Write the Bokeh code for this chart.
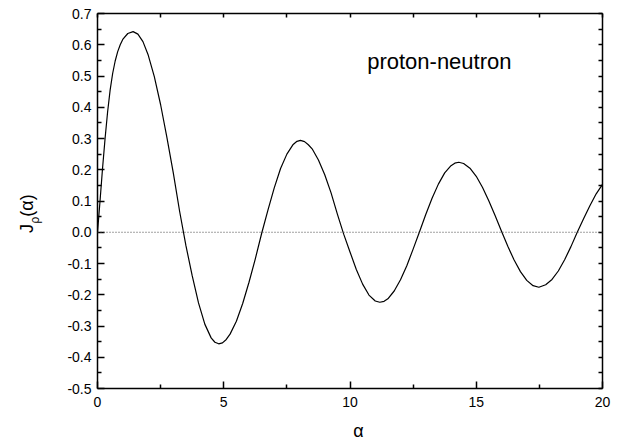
from bokeh.plotting import figure
from bokeh.layouts import row, column
from bokeh.models import Range1d, FixedTicker, LinearAxis, Span, Label, CustomJSTickFormatter
from bokeh.embed import file_html
from bokeh.resources import INLINE
import math

# Curve J_rho(alpha)
alpha = [0.0, 0.1, 0.2, 0.3, 0.4, 0.5, 0.6, 0.7, 0.8, 0.9, 1.0, 1.2, 1.41,
         1.6, 1.8, 2.0, 2.25, 2.5, 2.75, 3.0, 3.25, 3.5, 3.75, 4.0, 4.25, 4.5, 4.65, 4.8,
         4.95, 5.1, 5.25, 5.5, 5.75, 6.0, 6.25, 6.5, 6.75, 7.0, 7.25, 7.5, 7.75, 7.9, 8.04,
         8.2, 8.35, 8.5, 8.75, 9.0, 9.25, 9.5, 9.75, 10.0, 10.25, 10.5, 10.75, 11.0, 11.18,
         11.35, 11.5, 11.75, 12.0, 12.25, 12.5, 12.75, 13.0, 13.25, 13.5, 13.75, 14.0, 14.15, 14.31,
         14.5, 14.75, 15.0, 15.25, 15.5, 15.75, 16.0, 16.25, 16.5, 16.75, 17.0, 17.25, 17.48,
         17.75, 18.0, 18.25, 18.5, 18.75, 19.0, 19.25, 19.5, 19.75, 20.0]
j_rho = [0.0, 0.10, 0.205, 0.30, 0.385, 0.455, 0.508, 0.548, 0.578, 0.600, 0.617, 0.636, 0.642,
         0.634, 0.610, 0.569, 0.498, 0.408, 0.303, 0.191, 0.068, -0.042, -0.139, -0.226, -0.294, -0.338, -0.352, -0.357,
         -0.354, -0.343, -0.326, -0.285, -0.228, -0.160, -0.085, -0.004, 0.071, 0.142, 0.204, 0.250, 0.281, 0.291, 0.294,
         0.290, 0.280, 0.267, 0.231, 0.184, 0.126, 0.058, -0.006, -0.063, -0.119, -0.166, -0.201, -0.220, -0.224,
         -0.221, -0.213, -0.188, -0.152, -0.107, -0.054, 0.001, 0.057, 0.109, 0.154, 0.190, 0.213, 0.221, 0.224,
         0.220, 0.205, 0.179, 0.143, 0.100, 0.053, 0.003, -0.045, -0.089, -0.126, -0.154, -0.171, -0.176,
         -0.168, -0.151, -0.124, -0.088, -0.046, 0.000, 0.043, 0.085, 0.123, 0.153]

x_ticks = [0, 5, 10, 15, 20]
x_minor = [2.5, 7.5, 12.5, 17.5]
y_ticks = [-0.5, -0.4, -0.3, -0.2, -0.1, 0.0, 0.1, 0.2, 0.3, 0.4, 0.5, 0.6, 0.7]
y_minor = [-0.45, -0.35, -0.25, -0.15, -0.05, 0.05, 0.15, 0.25, 0.35, 0.45, 0.55, 0.65]
annotation = "proton-neutron"
ylabel_parts = ["J", "\u03c1", "(\u03b1)"]
xlabel = "\u03b1"

FONT = "Liberation Sans"
LW = 60          # width of the strip holding the y-axis title
MW = 560         # width of the main plot
MH = 418         # height of the main plot
BH = 22          # height of the strip holding the x-axis title
H = MH + BH


def strip(w, h):
    f = figure(width=w, height=h, output_backend="svg", toolbar_location=None,
               x_range=Range1d(0, w), y_range=Range1d(h, 0),
               min_border=0, x_axis_location=None, y_axis_location=None)
    f.grid.visible = False
    f.outline_line_color = None
    return f

# ---- strip with the rotated y-axis title (page pixel coordinates) ----
lab = strip(LW, H)
rot = math.pi / 2
lab.add_layout(Label(x=26, y=228, text=ylabel_parts[0], angle=rot, text_font=FONT,
                     text_font_size="18px", text_align="center", text_baseline="middle",
                     text_color="black"))
lab.add_layout(Label(x=34, y=219.5, text=ylabel_parts[1], angle=rot, text_font=FONT,
                     text_font_size="12px", text_align="center", text_baseline="middle",
                     text_color="black"))
lab.add_layout(Label(x=26, y=205, text=ylabel_parts[2], angle=rot, text_font=FONT,
                     text_font_size="18px", text_align="center", text_baseline="middle",
                     text_color="black"))

# ---- strip with the x-axis title ----
xl = strip(MW, BH)
xl.add_layout(Label(x=(97 - LW) + 252.5, y=BH, text=xlabel, text_font=FONT,
                    text_font_size="18px", text_align="center", text_baseline="bottom",
                    text_color="black"))

# ---- main plot ----
p = figure(width=MW, height=MH, output_backend="svg", toolbar_location=None,
           x_range=Range1d(0, 20), y_range=Range1d(-0.5, 0.7),
           min_border_left=97 - LW, min_border_right=18, min_border_top=13,
           min_border_bottom=MH - 388,
           x_axis_location=None, y_axis_location=None)
p.grid.visible = False
p.outline_line_color = None

yfmt = CustomJSTickFormatter(code="return tick.toFixed(1);")

def style(ax, major_in, minor_in, labels=True):
    ax.axis_line_color = "black"
    ax.axis_line_width = 1.5
    ax.major_tick_line_color = "black"
    ax.minor_tick_line_color = "black"
    ax.major_tick_line_width = 1.5
    ax.minor_tick_line_width = 1.5
    ax.major_tick_in = major_in
    ax.major_tick_out = 0
    ax.minor_tick_in = minor_in
    ax.minor_tick_out = 0
    ax.major_label_text_font = FONT
    ax.major_label_text_font_size = "14px"
    ax.major_label_text_color = "black"
    ax.major_label_standoff = 6
    if not labels:
        ax.major_label_text_alpha = 0
        ax.major_label_text_font_size = "0px"

bottom = LinearAxis(ticker=FixedTicker(ticks=x_ticks, minor_ticks=x_minor))
style(bottom, 7, 4)
bottom.major_label_standoff = 8
p.add_layout(bottom, "below")

left = LinearAxis(ticker=FixedTicker(ticks=y_ticks, minor_ticks=y_minor), formatter=yfmt)
style(left, 7, 4)
p.add_layout(left, "left")

top = LinearAxis(ticker=FixedTicker(ticks=x_ticks, minor_ticks=x_minor))
style(top, 4, 4, labels=False)
p.add_layout(top, "above")

right = LinearAxis(ticker=FixedTicker(ticks=y_ticks, minor_ticks=y_minor), formatter=yfmt)
style(right, 4, 4, labels=False)
p.add_layout(right, "right")

p.add_layout(Span(location=0, dimension="width", line_color="#444444",
                  line_width=1, line_dash="1 2"))

p.line(alpha, j_rho, line_color="black", line_width=1.2, line_join="round")

p.add_layout(Label(x=10.68, y=0.548, text=annotation, text_font=FONT,
                   text_font_size="22px", text_color="black", text_baseline="alphabetic"))

layout = row(lab, column(p, xl, spacing=0), spacing=0)
open("out.html", "w").write(file_html(layout, INLINE))
